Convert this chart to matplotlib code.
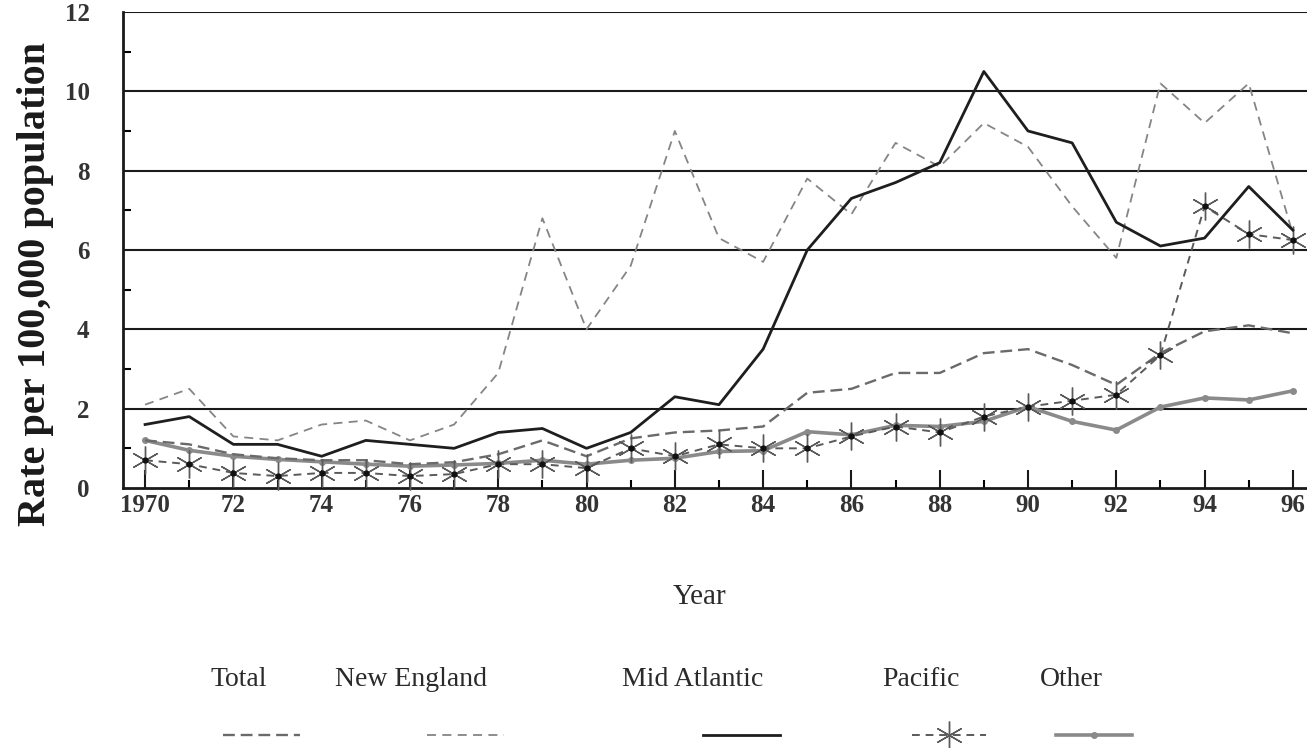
import matplotlib
matplotlib.use("Agg")
import matplotlib.pyplot as plt
from matplotlib.lines import Line2D
from matplotlib.ticker import MultipleLocator, FixedLocator
import numpy as np

plt.rcParams['font.family'] = ['Liberation Serif', 'DejaVu Serif']

years = np.arange(1970, 1997)

total = [1.2, 1.1, 0.85, 0.75, 0.7, 0.7, 0.6, 0.65, 0.85, 1.2, 0.8, 1.25, 1.4,
         1.45, 1.55, 2.4, 2.5, 2.9, 2.9, 3.4, 3.5, 3.1, 2.6, 3.4, 3.95, 4.1, 3.9]
new_england = [2.1, 2.5, 1.3, 1.2, 1.6, 1.7, 1.2, 1.6, 2.9, 6.8, 4.0, 5.6, 9.0,
               6.3, 5.7, 7.8, 6.9, 8.7, 8.1, 9.2, 8.6, 7.1, 5.8, 10.2, 9.2, 10.2, 6.4]
mid_atlantic = [1.6, 1.8, 1.1, 1.1, 0.8, 1.2, 1.1, 1.0, 1.4, 1.5, 1.0, 1.4, 2.3,
                2.1, 3.5, 6.0, 7.3, 7.7, 8.2, 10.5, 9.0, 8.7, 6.7, 6.1, 6.3, 7.6, 6.5]
pacific = [0.7, 0.6, 0.38, 0.3, 0.38, 0.38, 0.3, 0.35, 0.6, 0.6, 0.5, 1.0, 0.8,
           1.1, 1.0, 1.0, 1.3, 1.55, 1.4, 1.8, 2.05, 2.2, 2.35, 3.35, 7.1, 6.4, 6.25]
other = [1.2, 0.95, 0.8, 0.72, 0.66, 0.6, 0.55, 0.58, 0.62, 0.7, 0.6, 0.7, 0.75,
         0.92, 0.94, 1.42, 1.34, 1.58, 1.55, 1.68, 2.05, 1.68, 1.46, 2.04, 2.27, 2.22, 2.45]

series_names = ['Total', 'New England', 'Mid Atlantic', 'Pacific', 'Other']
tick_years = list(range(1970, 1997, 2))
tick_labels = ['1970'] + [str(y)[2:] for y in tick_years[1:]]

fig = plt.figure(figsize=(13.07, 7.48), dpi=100)
ax = fig.add_axes([0.0941, 0.3476, 0.9059, 0.6364])

asterisk = (6, 2, 0)

styles = {
    'Total': dict(color='#6a6a6a', lw=1.7, dashes=(5, 2.5)),
    'New England': dict(color='#858585', lw=1.3, dashes=(5, 3.5)),
    'Mid Atlantic': dict(color='#1e1e1e', lw=2.0),
    'Pacific': dict(color='#5a5a5a', lw=1.4, dashes=(4, 3),
                    marker=asterisk, ms=20, mew=1.0),
    'Other': dict(color='#8a8a8a', lw=2.6, marker='o', ms=4),
}

# horizontal rules
for v in range(2, 13, 2):
    ax.axhline(v, color='#1a1a1a', lw=1.5, zorder=1)

data = {'Total': total, 'New England': new_england, 'Mid Atlantic': mid_atlantic,
        'Pacific': pacific, 'Other': other}
for name in ['Other', 'Total', 'New England', 'Pacific', 'Mid Atlantic']:
    ax.plot(years, data[name], zorder=3, clip_on=False, **styles[name])
# dark centres of the asterisks
ax.plot(years, pacific, ls='none', marker='o', ms=3.5, color='#111111', zorder=4)

ax.set_xlim(1969.5, 1996.32)
ax.set_ylim(0, 12)

for side in ['top', 'right']:
    ax.spines[side].set_visible(False)
ax.spines['left'].set_linewidth(2.0)
ax.spines['bottom'].set_linewidth(2.0)
ax.spines['left'].set_color('#1a1a1a')
ax.spines['bottom'].set_color('#1a1a1a')

ax.xaxis.set_major_locator(FixedLocator(tick_years))
ax.xaxis.set_minor_locator(FixedLocator(list(range(1971, 1997, 2))))
ax.set_xticklabels(tick_labels)
ax.yaxis.set_major_locator(MultipleLocator(2))
ax.yaxis.set_minor_locator(FixedLocator([1, 3, 5, 7, 9, 11]))

ax.tick_params(axis='x', which='major', direction='in', length=13, width=1.5,
               pad=4, labelsize=18, colors='#1a1a1a')
ax.tick_params(axis='x', which='minor', direction='in', length=6, width=1.5)
ax.tick_params(axis='y', which='major', direction='in', length=0, pad=24,
               labelsize=18, colors='#1a1a1a')
ax.tick_params(axis='y', which='minor', direction='in', length=6, width=1.5)
for lab in ax.get_xticklabels() + ax.get_yticklabels():
    lab.set_fontweight('bold')
    lab.set_color('#333333')

fig.text(0.027, 0.62, 'Rate per 100,000 population', rotation=90,
         ha='center', va='center', fontsize=29, fontweight='bold', color='#1a1a1a')
fig.text(0.5356, 0.202, 'Year', ha='center', va='center', fontsize=21,
         color='#2a2a2a')

# legend: names on one row, line samples underneath
label_x = [239, 411, 693, 921, 1071]
sample_x = [(223, 300), (427, 504), (703, 780), (912, 986), (1056, 1132)]
W, H = 1307.0, 748.0
for name, lx, (x0, x1) in zip(series_names, label_x, sample_x):
    fig.text(lx / W, 1 - 680 / H, name, ha='center', va='center',
             fontsize=20, color='#2a2a2a')
    st = dict(styles[name])
    mk = st.pop('marker', None)
    ms = st.pop('ms', None)
    mew = st.pop('mew', 1.0)
    yy = 1 - 735 / H
    fig.add_artist(Line2D([x0 / W, x1 / W], [yy, yy], transform=fig.transFigure,
                          **st))
    if mk is not None:
        fig.add_artist(Line2D([(x0 + x1) / 2 / W], [yy], transform=fig.transFigure,
                              ls='none', marker=mk, ms=ms, mew=mew,
                              color=st['color']))

fig.savefig('out.png', dpi=100)
